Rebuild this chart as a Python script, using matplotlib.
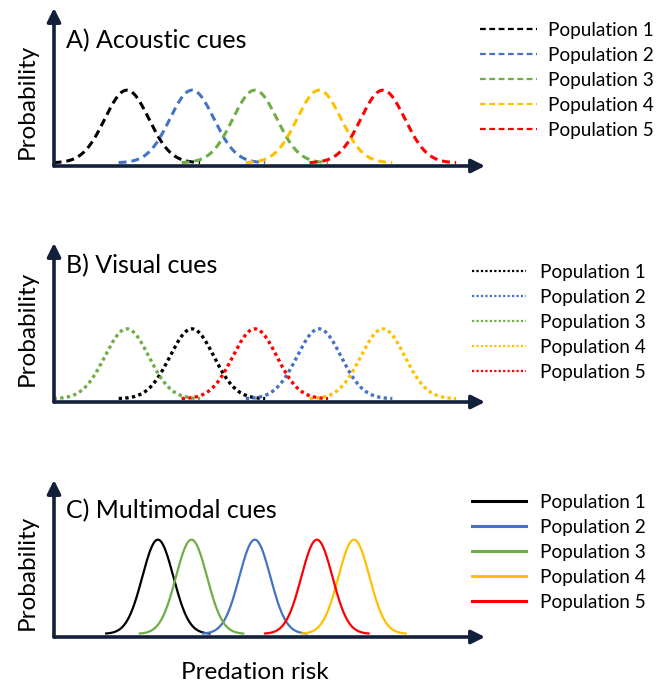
import numpy as np
import matplotlib
matplotlib.use('Agg')
import matplotlib.pyplot as plt
from matplotlib.lines import Line2D

plt.rcParams['font.family'] = ['Lato', 'DejaVu Sans']

W, H = 670, 684

labels = ['Population 1', 'Population 2', 'Population 3', 'Population 4', 'Population 5']
colors = ['#000000', '#4472C4', '#70AD47', '#FFC000', '#FF0000']

# peak positions on the predation-risk axis (0-10), one per population
centres_acoustic = [1.69, 3.20, 4.66, 6.15, 7.63]
centres_visual = [3.20, 6.15, 1.69, 7.63, 4.66]
centres_multi = [2.41, 4.66, 3.19, 6.96, 6.10]

# spread and height of the curves
sigma_acoustic, sigma_visual, sigma_multi = 0.51, 0.51, 0.36
half_acoustic, half_visual, half_multi = 1.70, 1.70, 1.20
peak_acoustic, peak_visual, peak_multi = 0.46, 0.44, 0.60

titles = ['A) Acoustic cues', 'B) Visual cues', 'C) Multimodal cues']
axis_col = '#13203a'

fig = plt.figure(figsize=(W / 100, H / 100), dpi=100)

def px_axes(top, bottom, left=54, right=485):
    return fig.add_axes([left / W, 1 - bottom / H, (right - left) / W, (bottom - top) / H])

def draw_arrows(ax):
    kw = dict(arrowstyle='-|>', lw=2.6, color=axis_col, shrinkA=0, shrinkB=0, mutation_scale=20)
    ax.annotate('', xy=(1, 0), xytext=(0, 0), xycoords='axes fraction', arrowprops=kw)
    ax.annotate('', xy=(0, 1), xytext=(0, 0), xycoords='axes fraction', arrowprops=kw)

def draw_panel(ax, centres, sigma, half, peak, ls, lw):
    for c, col in zip(centres, colors):
        x = np.linspace(c - half, c + half, 300)
        y = 0.02 + peak * np.exp(-(x - c) ** 2 / (2 * sigma ** 2))
        ax.plot(x, y, color=col, ls=ls, lw=lw, clip_on=False)
    ax.set_xlim(0, 10)
    ax.set_ylim(0, 1)
    ax.axis('off')
    draw_arrows(ax)

dash = (0, (2.6, 1.6))
dot = (0, (1, 1))

axA = px_axes(8, 166)
draw_panel(axA, centres_acoustic, sigma_acoustic, half_acoustic, peak_acoustic, dash, 2.2)
axB = px_axes(243, 402)
draw_panel(axB, centres_visual, sigma_visual, half_visual, peak_visual, dot, 2.4)
axC = px_axes(480, 637)
draw_panel(axC, centres_multi, sigma_multi, half_multi, peak_multi, '-', 1.6)

# panel titles and y labels
for title, base, mid in zip(titles, [48, 273, 518], [101, 328, 572]):
    fig.text(66 / W, 1 - base / H, title, fontsize=18, ha='left', va='baseline')
    fig.text(27 / W, 1 - mid / H, 'Probability', fontsize=17.5, rotation=90, ha='center', va='center')

fig.text(255 / W, 1 - 679 / H, 'Predation risk', fontsize=17.5, ha='center', va='baseline')

# legends
def add_legend(ls, lw, x, y, hl, pad):
    handles = [Line2D([], [], color=c, ls=ls, lw=lw) for c in colors]
    fig.legend(handles, labels, loc='upper left', bbox_to_anchor=(x / W, 1 - y / H),
               frameon=False, fontsize=13.7, handlelength=hl, handletextpad=pad,
               labelspacing=0.42, borderpad=0, borderaxespad=0)

add_legend(dash, 1.6, 480, 22, 3.0, 0.59)
add_legend(dot, 1.6, 472, 264, 2.83, 0.75)
add_legend('-', 2.2, 472, 494, 2.83, 0.75)

fig.savefig('out.png', dpi=100)
